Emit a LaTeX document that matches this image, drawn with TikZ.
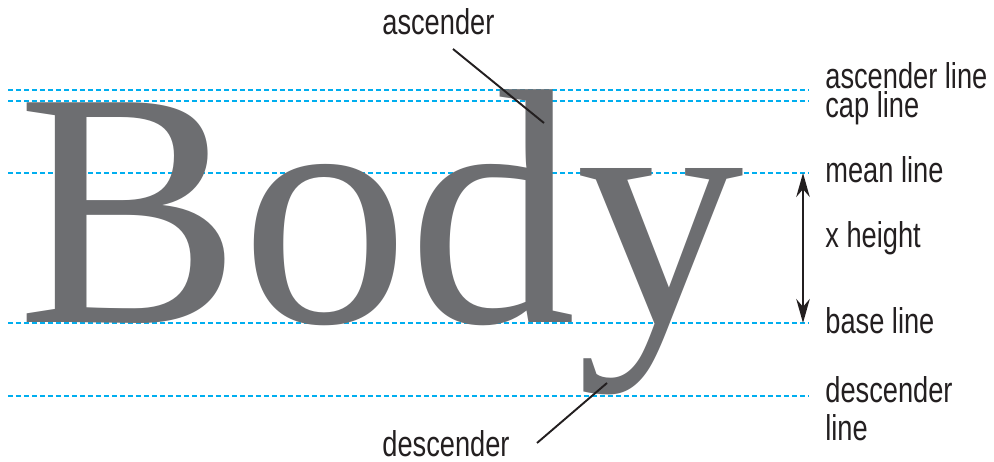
\documentclass[tikz,border=0pt]{standalone}
\usepackage{fontspec}
\setmainfont{Liberation Serif}
\newfontfamily\labelfont[FakeStretch=0.76]{Liberation Sans}
\usepackage{tikz}
\usetikzlibrary{arrows.meta, positioning}
\definecolor{glyphgrey}{RGB}{109,110,113}
\definecolor{guidecyan}{RGB}{0,174,239}
\definecolor{inkblack}{RGB}{35,31,32}
\tikzstyle{guide}   = [draw=guidecyan, line width=0.6pt, dash pattern=on 0.11cm off 0.05cm]
\tikzstyle{tag}     = [anchor=base west, inner sep=0pt, text=inkblack,
                       font=\labelfont\fontsize{20.4}{21}\selectfont]
\tikzstyle{pointer} = [draw=inkblack, line width=1.1pt]
\tikzstyle{dim}     = [{Stealth[length=0.48cm, width=0.27cm]}-{Stealth[length=0.48cm, width=0.27cm]},
                       draw=inkblack, line width=1.1pt]

\begin{document}
\begin{tikzpicture}[x=0.02cm, y=-0.02cm]
    \useasboundingbox (0,0) rectangle (994,462);

    \foreach \yy in {90,101,173,323,396}
        \draw[guide] (8,\yy) -- (808,\yy);

    \node[anchor=base west, inner sep=0pt, text=glyphgrey,
          font=\fontsize{191}{191}\selectfont] (word) at (17,323) {Body};

    \node[tag] (ascline)  at (825,89)  {ascender line};
    \node[tag] (capline)  at (825,118) {cap line};
    \node[tag] (meanline) at (825,183) {mean line};
    \node[tag] (xheight)  at (825,248) {x height};
    \node[tag] (baseline) at (825,334) {base line};
    \node[tag] (descline) at (825,403) {descender};
    \node[tag] (descline2) at (825,440) {line};

    \node[tag] (asc)  at (382,35)  {ascender};
    \node[tag] (desc) at (382,457) {descender};

    \coordinate (ascfrom) at (453,49);
    \coordinate (ascto)   at (544,123);
    \coordinate (descfrom) at (537,443);
    \coordinate (descto)   at (607,383);
    \draw[pointer] (ascfrom) -- (ascto);
    \draw[pointer] (descfrom) -- (descto);

    \coordinate (meantop) at (803,173);
    \coordinate (basebot) at (803,323);
    \draw[dim] (meantop) -- (basebot);
\end{tikzpicture}
\end{document}
